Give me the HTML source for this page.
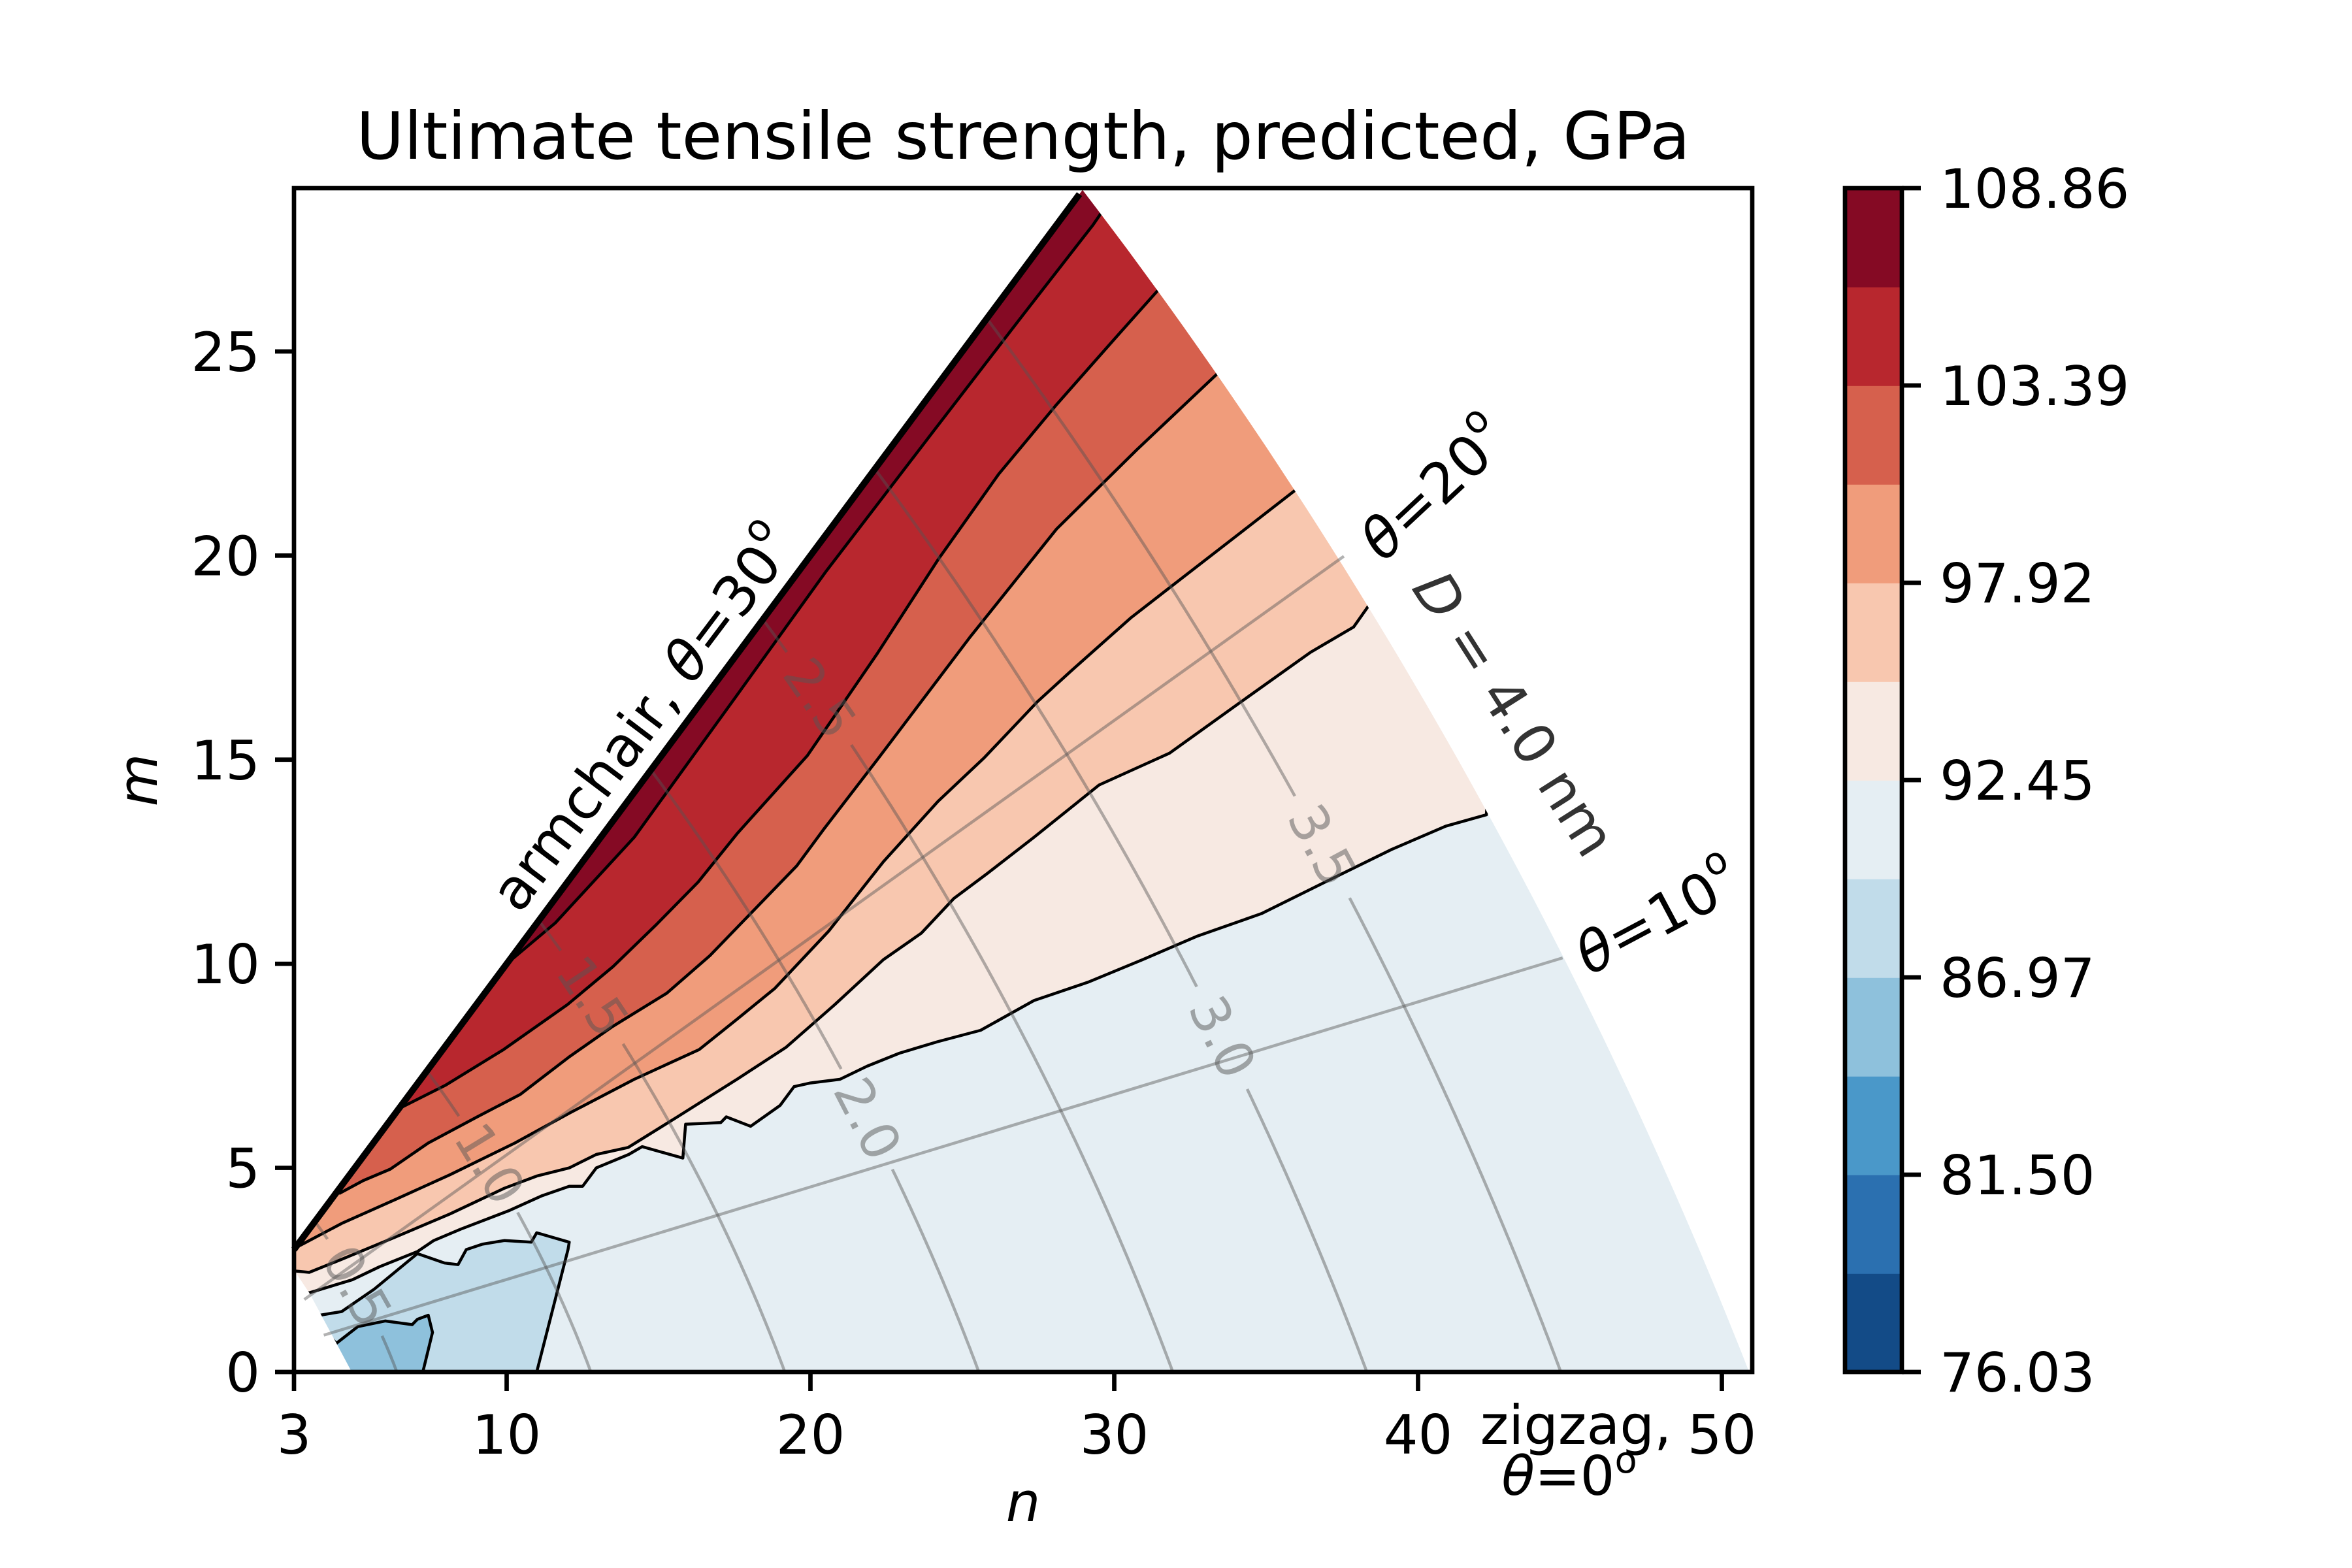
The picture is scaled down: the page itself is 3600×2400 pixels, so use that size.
<!DOCTYPE html>
<html><head><meta charset="utf-8"><title>Ultimate tensile strength, predicted, GPa</title>
<style>
html,body{margin:0;padding:0;background:#fff;}
svg{display:block;font-family:"DejaVu Sans","Liberation Sans",sans-serif;}
</style></head>
<body>
<svg id="chart" xmlns="http://www.w3.org/2000/svg" width="3600" height="2400" viewBox="0 0 3600 2400">
<defs>
<clipPath id="regionClip"><path id="regionPath" d=""/></clipPath>
<clipPath id="plotClip"><rect x="450" y="288" width="2232" height="1812"/></clipPath>
</defs>
<rect x="0" y="0" width="3600" height="2400" fill="#fff"/>
<g id="fills" clip-path="url(#regionClip)"></g>
<g id="clines" clip-path="url(#regionClip)"></g>
<g id="overlay" clip-path="url(#plotClip)"></g>
<g id="armchair"></g>
<g id="axes"></g>
<g id="cbar"></g>
<text x="1566" y="243" font-size="100" text-anchor="middle">Ultimate tensile strength, predicted, GPa</text>
<text x="1566" y="2328" font-size="83" font-style="italic" text-anchor="middle">n</text>
<text x="0" y="0" font-size="83" font-style="italic" text-anchor="middle" transform="translate(240,1194) rotate(-90)">m</text>
<text font-size="86" text-anchor="middle" dominant-baseline="central" transform="translate(985,1100) rotate(-53)">armchair, <tspan font-style="italic">θ</tspan>=30<tspan font-size="58" dy="-36">o</tspan></text>
<text font-size="86" text-anchor="middle" dominant-baseline="central" transform="translate(2196,749) rotate(-43)"><tspan font-style="italic">θ</tspan>=20<tspan font-size="58" dy="-36">o</tspan></text>
<text font-size="86" text-anchor="middle" dominant-baseline="central" transform="translate(2538,1405) rotate(-28)"><tspan font-style="italic">θ</tspan>=10<tspan font-size="58" dy="-36">o</tspan></text>
<text font-size="86" fill="#333" text-anchor="middle" dominant-baseline="central" transform="translate(2317,1093) rotate(57.5)"><tspan font-style="italic">D</tspan> = 4.0 nm</text>
<text x="2412" y="2210" font-size="83" text-anchor="middle">zigzag,</text>
<text x="2402" y="2288" font-size="83" text-anchor="middle"><tspan font-style="italic">θ</tspan>=0<tspan font-size="56" dy="-34">o</tspan></text>

<script>
// ---- axes ----
const N_MIN = 3, N_MAX = 51, M_MAX = 29;
const PX_L = 450, PX_R = 2682, PX_B = 2100, PX_T = 288;
function X(n){ return PX_L + (n - N_MIN) / (N_MAX - N_MIN) * (PX_R - PX_L); }
function Y(m){ return PX_B - m / M_MAX * (PX_B - PX_T); }

// ---- data ----
const xTicks = [3, 10, 20, 30, 40, 50];
const yTicks = [0, 5, 10, 15, 20, 25];
const cbarTickLabels = ["108.86", "103.39", "97.92", "92.45", "86.97", "81.50", "76.03"];
const bandColors = ["#134b87","#2b70b0","#4a98c9","#8ec1dc","#c1dcea","#e5eef3","#f7e9e2","#f8c7af","#f09c7b","#d6604d","#b8272e","#850a24"];
const outerRadiusBottom = 50.9;
const outerRadiusTop = 50.15;
const innerBoundary = [[3,3],[3,2.5],[3.5,1.94],[4.4,0.7],[4.9,0]];
const contour1 = [[10,10],[11.6,11],[14.2,13.1],[17.6,16.6],[20.5,19.6],[24,23],[27,25.9],[29.3,28.1],[30.5,29.4]];
const contour2 = [[6.45,6.45],[8,7.03],[9.9,7.9],[12,9],[13.5,9.93],[14.9,10.94],[16.3,12.0],[17.6,13.2],[19.9,15.1],[22.2,17.6],[24.2,19.9],[26.2,22.0],[28.1,23.7],[30.0,25.3],[31.8,26.8],[32.8,27.6]];
const contour3 = [[4.48,4.37],[5.28,4.69],[6.17,4.97],[7.42,5.61],[9.03,6.25],[10.45,6.8],[12.06,7.72],[13.48,8.46],[15.27,9.28],[16.69,10.2],[18.12,11.3],[19.55,12.4],[20.44,13.3],[22.2,15.0],[25.25,18.0],[28.1,20.65],[30.74,22.59],[33.6,24.6],[34.6,25.3]];
const contour4 = [[2.8,3.0],[3.2,3.1],[4.57,3.64],[6.35,4.23],[8.13,4.83],[10.27,5.61],[12.06,6.34],[14.2,7.17],[16.34,7.9],[17.58,8.64],[18.83,9.4],[20.6,10.8],[22.4,12.5],[24.2,13.98],[25.71,15.04],[27.47,16.42],[28.56,17.16],[30.54,18.47],[31.8,19.2],[34.14,20.55],[36.3,21.8],[37.4,22.4]];
const contour5 = [[2.8,2.49],[3.5,2.44],[4.57,2.76],[6.35,3.31],[8.13,3.87],[9.92,4.5],[10.99,4.8],[12.06,5.0],[12.95,5.33],[14.0,5.5],[15.62,6.25],[17.58,7.17],[19.19,7.95],[20.8,9.0],[22.4,10.1],[23.65,10.75],[24.72,11.6],[25.8,12.2],[27.36,13.1],[29.5,14.38],[31.82,15.16],[34.14,16.4],[36.46,17.63],[37.88,18.25],[38.4,18.8],[38.8,18.75],[39.3,18.4],[40.5,18.0]];
const contour6 = [[2.8,2.0],[3.5,1.94],[4.92,2.26],[5.82,2.58],[7.06,2.95],[7.6,3.22],[8.49,3.5],[10.1,3.96],[11.17,4.32],[12.06,4.55],[12.5,4.55],[12.95,5.0],[14.02,5.33],[14.46,5.52],[15.8,5.24],[15.89,6.07],[17.05,6.11],[17.23,6.25],[18.03,6.02],[19.0,6.53],[19.46,6.99],[20.0,7.08],[20.97,7.17],[21.86,7.49],[22.93,7.81],[24.18,8.09],[25.6,8.37],[27.36,9.1],[29.14,9.55],[30.93,10.1],[32.71,10.67],[34.85,11.23],[36.99,12.02],[39.13,12.8],[40.91,13.37],[42.25,13.65],[42.3,14.4],[43.5,15.5]];
const contour7 = [[3.6,1.6],[3.85,1.39],[4.57,1.48],[5.64,2.03],[7.06,2.9],[7.96,2.67],[8.4,2.63],[8.67,3.0],[9.2,3.13],[9.92,3.22],[10.81,3.18],[10.99,3.41],[12.06,3.18],[12.02,3.0],[10.99,0],[10.9,-0.6]];
const contour8 = [[4.1,0.95],[4.39,0.7],[5.1,1.11],[6.0,1.25],[6.89,1.16],[7.06,1.29],[7.42,1.39],[7.56,0.97],[7.24,0],[7.2,-0.6]];
const aboveContours = [contour6, contour5, contour4, contour3, contour2, contour1];
const aboveBandIndex = [6, 7, 8, 9, 10, 11];
const belowContours = [contour7, contour8];
const belowBandIndex = [4, 3];
const baseBandIndex = 5;
const diameterLevels = [0.5, 1.0, 1.5, 2.0, 2.5, 3.0, 3.5];
const diameterLabelM = [2.1, 5.1, 9.2, 6.2, 16.5, 8.2, 12.9];
const diameterLabelText = ["0.5", "1.0", "1.5", "2.0", "2.5", "3.0", "3.5"];
const angleLines = [10, 20];
const NM_PER_INDEX = 0.0783;

const NS = "http://www.w3.org/2000/svg";
function mk(tag, attrs){ const e = document.createElementNS(NS, tag); for (const k in attrs) e.setAttribute(k, attrs[k]); return e; }
function pathFrom(pts){ return pts.map((p,i)=>(i?"L":"M")+X(p[0]).toFixed(1)+","+Y(p[1]).toFixed(1)).join(""); }
function arcN(r, m){ return (-m + Math.sqrt(Math.max(0, 4*r*r - 3*m*m))) / 2; }

// region (outer edge: diameter limit, slightly varying due to grid)
const mTop = outerRadiusTop / Math.sqrt(3);
function outerR(m){ return outerRadiusBottom + (outerRadiusTop - outerRadiusBottom) * (m / mTop); }
const regionPts = innerBoundary.slice();
regionPts.push([arcN(outerRadiusBottom,0), 0]);
for (let i=1;i<=60;i++){ const m = mTop*i/60; regionPts.push([arcN(outerR(m),m), m]); }
document.getElementById('regionPath').setAttribute('d', pathFrom(regionPts) + "Z");

const fills = document.getElementById('fills');
const base = mk('path', {d: pathFrom(regionPts)+"Z", fill: bandColors[baseBandIndex]});


fills.appendChild(base);

aboveContours.forEach((c, i) => {
  const s = c[0];
  const pts = c.concat([[70,70],[-10,70],[-10,s[1]]]);
  const p = mk('path', {d: pathFrom(pts)+"Z", fill: bandColors[aboveBandIndex[i]]});
  
  
  fills.appendChild(p);
});
belowContours.forEach((c, i) => {
  const s = c[0], e = c[c.length-1];
  const pts = c.concat([[e[0],-5],[-5,-5],[-5,s[1]]]);
  const p = mk('path', {d: pathFrom(pts)+"Z", fill: bandColors[belowBandIndex[i]]});
  
  
  fills.appendChild(p);
});

const clines = document.getElementById('clines');
aboveContours.concat(belowContours).forEach((c, i) => {
  const p = mk('path', {d: pathFrom(c), fill: "none", stroke: "#000", "stroke-width": 4.5, "stroke-linejoin": "round"});
  
  
  clines.appendChild(p);
});

// overlay: diameter arcs with labels
const overlay = document.getElementById('overlay');
diameterLevels.forEach((d, i) => {
  const r = d / NM_PER_INDEX;
  const mEnd = r / Math.sqrt(3);
  const lm = diameterLabelM[i], ln = arcN(r, lm);
  const lx = X(ln), ly = Y(lm);
  const gap = 85;
  let segs = [], cur = [];
  for (let k=0;k<=300;k++){
    const m = mEnd*k/300, n = arcN(r, m);
    const dx = X(n)-lx, dy = Y(m)-ly;
    if (Math.hypot(dx,dy) < gap){ if (cur.length>1) segs.push(cur); cur = []; }
    else cur.push([n,m]);
  }
  if (cur.length>1) segs.push(cur);
  const p = mk('path', {d: segs.map(pathFrom).join(""), fill:"none", stroke:"#555", "stroke-opacity":0.45, "stroke-width":4.5});
  
  
  overlay.appendChild(p);
  const a1 = [arcN(r, lm-0.1), lm-0.1], a2 = [arcN(r, lm+0.1), lm+0.1];
  let ang = Math.atan2(Y(a2[1])-Y(a1[1]), X(a2[0])-X(a1[0])) * 180/Math.PI;
  if (ang > 90) ang -= 180; if (ang < -90) ang += 180;
  const t = mk('text', {x:0, y:0, "font-size":80, fill:"#555", "fill-opacity":0.5, "text-anchor":"middle", "dominant-baseline":"central", transform:`translate(${lx.toFixed(1)},${ly.toFixed(1)}) rotate(${ang.toFixed(1)})`});
  t.textContent = diameterLabelText[i];
  
  
  overlay.appendChild(t);
});
angleLines.forEach(th => {
  const tn = Math.tan(th*Math.PI/180);
  const ratio = 2*tn/(Math.sqrt(3)-tn);
  const k = Math.sqrt(1 + ratio + ratio*ratio);
  const n0 = 4.5/k, n1 = 50.6/k;
  const p = mk('path', {d: pathFrom([[n0, n0*ratio],[n1, n1*ratio]]), fill:"none", stroke:"#555", "stroke-opacity":0.45, "stroke-width":4.5});
  
  
  overlay.appendChild(p);
});

// armchair thick edge
const arm = mk('path', {d: pathFrom([[3,3],[mTop-0.1,mTop-0.1]]), stroke:"#000", "stroke-width":10, fill:"none"});


document.getElementById('armchair').appendChild(arm);

// axes
const axes = document.getElementById('axes');
const frame = mk('rect', {x:PX_L, y:PX_T, width:PX_R-PX_L, height:PX_B-PX_T, fill:"none", stroke:"#000", "stroke-width":6.7});


axes.appendChild(frame);
xTicks.forEach(v => {
  const l = mk('line', {x1:X(v), x2:X(v), y1:PX_B, y2:PX_B+29, stroke:"#000", "stroke-width":6.7});
  
  
  axes.appendChild(l);
  const t = mk('text', {x:X(v), y:PX_B+125, "font-size":83, "text-anchor":"middle"});
  t.textContent = v;
  
  
  axes.appendChild(t);
});
yTicks.forEach(v => {
  const l = mk('line', {x1:PX_L-29, x2:PX_L, y1:Y(v), y2:Y(v), stroke:"#000", "stroke-width":6.7});
  
  
  axes.appendChild(l);
  const t = mk('text', {x:PX_L-52, y:Y(v)+30, "font-size":83, "text-anchor":"end"});
  t.textContent = v;
  
  
  axes.appendChild(t);
});

// colorbar
const cb = document.getElementById('cbar');
const CB_L = 2824, CB_R = 2911;
const bandH = (PX_B - PX_T) / bandColors.length;
bandColors.forEach((c, i) => {
  const r = mk('rect', {x:CB_L, y:(PX_B - (i+1)*bandH).toFixed(2), width:CB_R-CB_L, height:(bandH+0.8).toFixed(2), fill:c});
  
  
  cb.appendChild(r);
});
const cbf = mk('rect', {x:CB_L, y:PX_T, width:CB_R-CB_L, height:PX_B-PX_T, fill:"none", stroke:"#000", "stroke-width":6.7});


cb.appendChild(cbf);
cbarTickLabels.forEach((lab, i) => {
  const y = PX_T + i * (PX_B - PX_T) / (cbarTickLabels.length - 1);
  const l = mk('line', {x1:CB_R, x2:CB_R+29, y1:y, y2:y, stroke:"#000", "stroke-width":6.7});
  
  
  cb.appendChild(l);
  const t = mk('text', {x:CB_R+58, y:y+30, "font-size":83});
  t.textContent = lab;
  
  
  cb.appendChild(t);
});
</script>
</svg>
</body></html>
